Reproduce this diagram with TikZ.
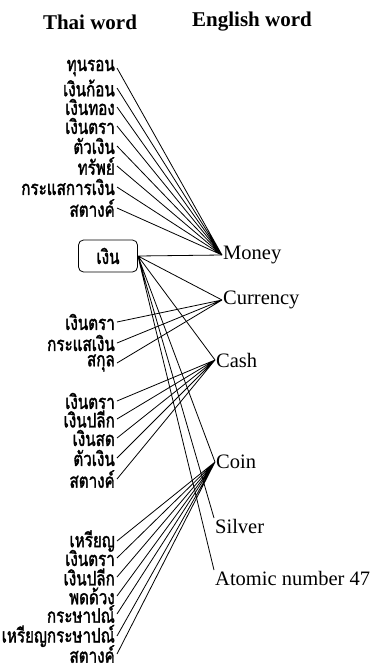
\documentclass[tikz,border=0pt]{standalone}
\usepackage{fontspec}
\setmainfont{Liberation Serif}
\newfontfamily\thaifont[Script=Thai,FakeStretch=0.76,FakeBold=1.6]{Loma}
\tikzset{
  thai/.style={anchor=east,inner xsep=2pt,inner ysep=0pt,font=\thaifont\fontsize{20}{20}\selectfont},
  eng/.style={anchor=west,inner sep=1pt,font=\fontsize{20.5}{20.5}\selectfont},
  head/.style={font=\bfseries\fontsize{21}{21}\selectfont},
  link/.style={line width=0.8pt}
}
\begin{document}
\begin{tikzpicture}[x=1pt,y=-1pt]
\useasboundingbox (0,0) rectangle (377,664);
\node[head] (thaihead) at (90,22) {Thai word};
\node[head] (enghead) at (252,22) {English word};
% english words
\node[eng] (money) at (222,255) {Money};
\node[eng] (currency) at (222,300) {Currency};
\node[eng] (cash) at (215,360) {Cash};
\node[eng] (coin) at (215,462) {Coin};
\node[eng,anchor=north west] (silver) at (214,518) {Silver};
\node[eng,anchor=north west] (atomic) at (214,570) {Atomic number 47};
% the word in the box
\node[draw,rounded corners=5pt,line width=0.8pt,minimum width=59,minimum height=32,
  thai,anchor=center] (ngoen) at (108,256) {เงิน};
% money
\node[thai] (m1) at (117,68) {ทุนรอน};
\node[thai] (m2) at (117,88) {เงินก้อน};
\node[thai] (m3) at (117,107) {เงินทอง};
\node[thai] (m4) at (117,126) {เงินตรา};
\node[thai] (m5) at (117,146) {ตัวเงิน};
\node[thai] (m6) at (117,166) {ทรัพย์};
\node[thai] (m7) at (117,187) {กระแสการเงิน};
\node[thai] (m8) at (117,208) {สตางค์};
% currency
\node[thai] (cu1) at (117,322) {เงินตรา};
\node[thai] (cu2) at (117,343) {กระแสเงิน};
\node[thai] (cu3) at (117,363) {สกุล};
% cash
\node[thai] (ca1) at (117,401) {เงินตรา};
\node[thai] (ca2) at (117,419) {เงินปลีก};
\node[thai] (ca3) at (117,438) {เงินสด};
\node[thai] (ca4) at (117,458) {ตัวเงิน};
\node[thai] (ca5) at (117,479) {สตางค์};
% coin
\node[thai] (co1) at (117,541) {เหรียญ};
\node[thai] (co2) at (117,558) {เงินตรา};
\node[thai] (co3) at (117,577) {เงินปลีก};
\node[thai] (co4) at (117,596) {พดด้วง};
\node[thai] (co5) at (117,614) {กระษาปณ์};
\node[thai] (co6) at (117,636) {เหรียญกระษาปณ์};
\node[thai] (co7) at (117,654) {สตางค์};
% lines
\draw[link] (m1.east) -- (money.west) (m2.east) -- (money.west)
  (m3.east) -- (money.west) (m4.east) -- (money.west)
  (m5.east) -- (money.west) (m6.east) -- (money.west)
  (m7.east) -- (money.west) (m8.east) -- (money.west);
\draw[link] (ngoen.east) -- (money.west) (ngoen.east) -- (currency.west)
  (ngoen.east) -- (cash.west) (ngoen.east) -- (coin.west)
  (ngoen.east) -- (silver.north west) (ngoen.east) -- (atomic.north west);
\draw[link] (cu1.east) -- (currency.west) (cu2.east) -- (currency.west)
  (cu3.east) -- (currency.west);
\draw[link] (ca1.east) -- (cash.west) (ca2.east) -- (cash.west)
  (ca3.east) -- (cash.west) (ca4.east) -- (cash.west)
  (ca5.east) -- (cash.west);
\draw[link] (co1.east) -- (coin.west) (co2.east) -- (coin.west)
  (co3.east) -- (coin.west) (co4.east) -- (coin.west)
  (co5.east) -- (coin.west) (co6.east) -- (coin.west)
  (co7.east) -- (coin.west);
\end{tikzpicture}
\end{document}
